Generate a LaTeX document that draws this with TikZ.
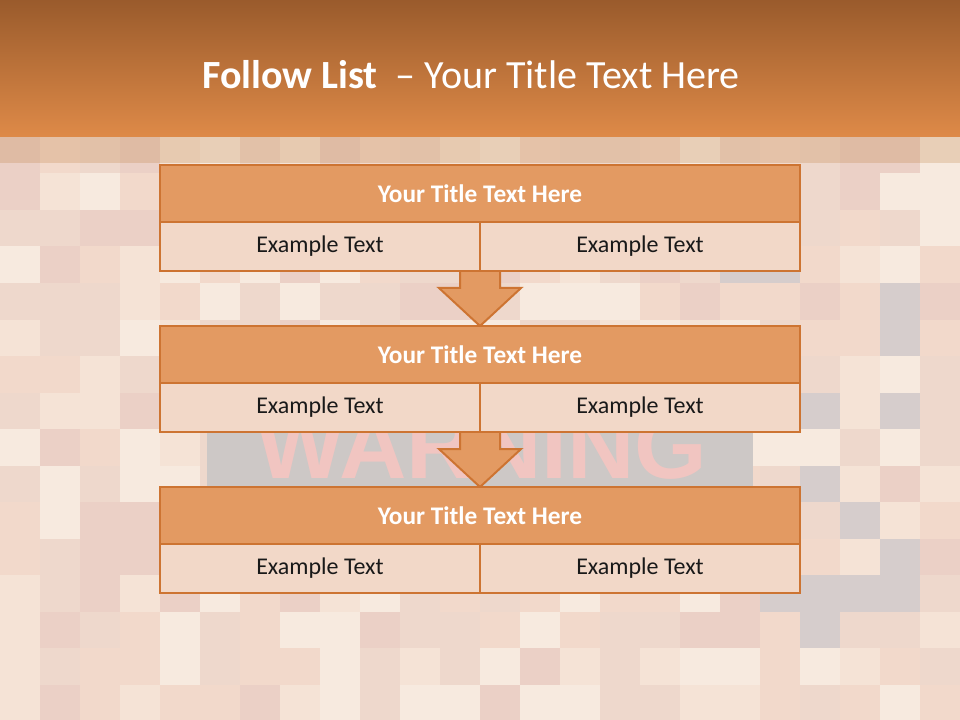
\documentclass[tikz,border=0pt]{standalone}
\usepackage{fontspec}
\setmainfont{Carlito}
\newfontfamily\warnfont{Liberation Sans}
\usetikzlibrary{positioning, calc}

\definecolor{hdrtop}{HTML}{9A5B2C}
\definecolor{hdrbot}{HTML}{DE8A48}
\definecolor{edge}{HTML}{CD7432}
\definecolor{ttlfill}{HTML}{E39A62}
\definecolor{cellfill}{HTML}{F2D8C8}
\definecolor{tile0}{HTML}{F5E3D6}
\definecolor{tile1}{HTML}{F2D9CB}
\definecolor{tile2}{HTML}{F7EADF}
\definecolor{tile3}{HTML}{EBD0C6}
\definecolor{tile4}{HTML}{D6CDCC}
\definecolor{tile5}{HTML}{EED8CC}
\definecolor{warngray}{HTML}{CDC8C6}
\definecolor{warnpink}{HTML}{F1C5C1}

\pgfdeclarelayer{back}
\pgfdeclarelayer{arrows}
\pgfsetlayers{back,arrows,main}

\begin{document}
\begin{tikzpicture}[
    x=0.75pt, y=-0.75pt,
    node distance=41.25pt,
    ttl/.style={rectangle, draw=edge, line width=1.5pt, fill=ttlfill, outer sep=0pt,
        minimum width=480pt, minimum height=42.75pt, text=white,
        font=\bfseries\fontsize{19}{21}\selectfont},
    cell/.style={rectangle, draw=edge, line width=1.5pt, fill=cellfill, outer sep=0pt,
        minimum width=240pt, minimum height=36.75pt, text=black!90,
        font=\fontsize{18}{20}\selectfont},
    fatarrow/.style={draw=edge, line width=1.5pt, fill=ttlfill, line join=miter}
]
\useasboundingbox (0,0) rectangle (960,720);

% mosaic background
\begin{pgfonlayer}{back}
\pgfmathsetseed{11}
\foreach \i in {0,...,23}{
  \foreach \j in {0,...,15}{
    \pgfmathrandominteger{\k}{0}{5}
    \pgfmathtruncatemacro{\k}{(\i<17 && \k==4) ? 5 : \k}
    \fill[tile\k] (40*\i,137+36.5*\j) rectangle ++(40,36.5);
  }
}
\fill[brown, opacity=0.25] (0,137) rectangle (960,163);
\fill[warngray] (207,405) rectangle (753,490);
\node[text=warnpink, font=\warnfont\bfseries\fontsize{70}{70}\selectfont, anchor=base]
    (warn) at (482,478) {WARNING};

% header
\shade[top color=hdrtop, bottom color=hdrbot] (0,0) rectangle (960,137);
\end{pgfonlayer}
\node[text=white, font=\fontsize{30}{34}\selectfont] (head) at (471,75)
    {\textbf{Follow List}\ \ -- Your Title Text Here};

% blocks
\node[ttl] (t1) at (480,193.5) {Your Title Text Here};
\node[cell, below right=0pt and 0pt of t1.south west] (l1) {Example Text};
\node[cell, right=0pt of l1] (r1) {Example Text};

\node[ttl, below=of l1.south east] (t2) {Your Title Text Here};
\node[cell, below right=0pt and 0pt of t2.south west] (l2) {Example Text};
\node[cell, right=0pt of l2] (r2) {Example Text};

\node[ttl, below=of l2.south east] (t3) {Your Title Text Here};
\node[cell, below right=0pt and 0pt of t3.south west] (l3) {Example Text};
\node[cell, right=0pt of l3] (r3) {Example Text};

% down arrows, kept behind the blocks
\begin{pgfonlayer}{arrows}
\foreach \a/\b in {l1/t2, l2/t3}{
  \draw[fatarrow] let \p1=(\a.south east), \p2=(\b.north) in
    (\x1-15pt,\y1+2pt) -- (\x1-15pt,\y1-12.75pt) -- (\x1-30.75pt,\y1-12.75pt)
    -- (\p2) -- (\x1+30.75pt,\y1-12.75pt) -- (\x1+15pt,\y1-12.75pt)
    -- (\x1+15pt,\y1+2pt);
}
\end{pgfonlayer}
\end{tikzpicture}
\end{document}
